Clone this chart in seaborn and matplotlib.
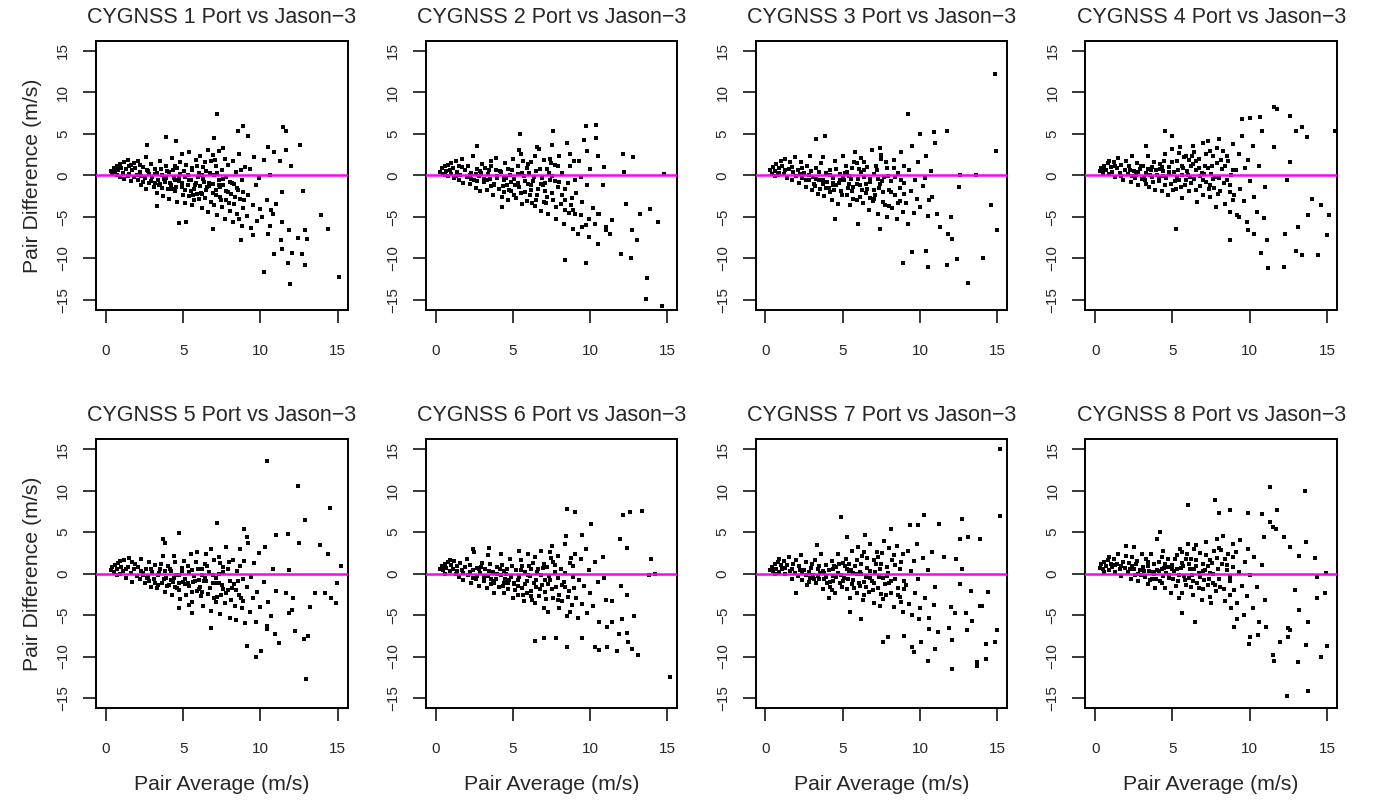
import numpy as np
import pandas as pd
import seaborn as sns
import matplotlib.pyplot as plt

# (pair average, pair difference), CYGNSS 1..8
pts1 = [(0.3,0.5),(0.4,0.2),(0.5,0.9),(0.6,0.4),(0.7,1.2),(0.7,0.1),(0.8,0.7),(0.9,1.4),(0.9,-0.2),(1.0,0.9),(0.5,0.6),(0.8,1.0),
        (1.1,0.3),(1.2,1.6),(1.2,-0.4),(1.3,0.8),(1.4,1.9),(1.5,0.2),(1.5,1.1),(1.6,-0.7),(1.7,0.6),(1.8,1.5),(1.8,-0.2),(1.9,0.9),(2.0,0.1),(1.4,-0.1),(1.6,1.3),
        (2.1,1.8),(2.1,-0.6),(2.2,0.4),(2.3,-1.2),(2.4,1.0),(2.5,-0.3),(2.6,2.2),(2.6,-1.6),(2.7,0.5),(2.8,-0.9),(2.9,1.4),(3.0,-0.2),(2.4,-0.8),(2.8,0.2),(2.2,1.3),
        (3.1,-1.4),(3.2,0.8),(3.3,-2.1),(3.4,-0.5),(3.5,1.7),(3.5,-1.0),(3.6,0.1),(3.7,-2.5),(3.8,-0.8),(3.9,1.2),(4.0,-1.6),(3.3,0.3),(3.6,-1.5),(3.9,-0.3),(3.2,-0.9),
        (4.1,0.4),(4.1,-2.8),(4.2,-1.1),(4.3,2.1),(4.4,-0.3),(4.5,-1.9),(4.6,0.9),(4.6,-3.2),(4.7,-0.7),(4.8,1.6),(4.9,-1.4),(5.0,-2.4),(4.3,-1.6),(4.5,-0.6),(4.8,0.2),(4.9,2.6),
        (5.1,-0.2),(5.1,-3.3),(5.2,1.3),(5.3,-1.2),(5.4,-2.5),(5.4,2.8),(5.5,-0.5),(5.6,0.6),(5.6,-3.6),(5.7,-1.6),(5.8,1.9),(5.8,-0.9),(5.9,-2.2),(6.0,0.3),(5.3,0.1),(5.5,-1.9),(5.7,-2.9),(5.9,1.1),
        (6.1,-1.3),(6.1,2.4),(6.2,-3.9),(6.3,-0.4),(6.3,1.0),(6.4,-2.7),(6.5,0.5),(6.5,-1.8),(6.6,3.1),(6.6,-4.4),(6.7,-0.9),(6.8,1.7),(6.8,-3.2),(6.9,-2.1),(7.0,0.0),(6.2,-2.2),(6.4,1.6),(6.7,-1.3),(6.9,2.5),(7.0,-3.6),
        (7.1,-1.7),(7.1,1.2),(7.2,-4.8),(7.3,-0.6),(7.3,2.9),(7.4,-2.6),(7.5,0.6),(7.5,-3.8),(7.6,-1.2),(7.7,2.0),(7.7,-5.2),(7.8,-0.2),(7.8,-2.9),(7.9,1.3),(8.0,-4.3),(7.2,0.3),(7.4,-1.4),(7.6,3.3),(7.9,-2.0),(8.0,-0.8),
        (8.1,-2.2),(8.2,1.7),(8.2,-5.6),(8.3,-3.4),(8.4,0.4),(8.5,-1.5),(8.5,-4.6),(8.6,2.6),(8.7,-2.8),(8.8,-6.1),(8.8,-0.6),(8.9,-3.9),(9.0,1.0),(8.3,-1.0),(8.6,-5.2),(8.9,-2.0),
        (9.1,-4.9),(9.2,-2.4),(9.3,0.8),(9.4,-6.3),(9.5,-3.6),(9.6,2.2),(9.7,-1.2),(9.8,-5.5),(9.9,-0.3),(10.0,-4.0),
        (10.2,1.9),(10.4,-2.9),(10.6,-6.1),(10.7,-4.2),(10.9,2.8),(11.0,-3.4),
        (2.25,-0.1),(2.65,0.6),(2.95,-0.7),(3.15,0.2),(3.45,-1.2),(3.75,-0.4),(3.95,0.5),(4.15,-0.9),(4.35,0.7),(4.55,-1.4),
        (4.75,-0.2),(4.95,-0.9),(5.15,-1.7),(5.35,-0.6),(5.55,0.9),(5.75,-1.1),(5.95,-0.2),(6.15,-2.1),(6.35,-0.8),(6.55,-1.4),
        (6.75,0.3),(6.95,-1.0),(7.15,-2.4),(7.35,-1.1),(7.55,-0.4),(7.75,-1.9),(7.95,-3.3),(8.15,-0.9),(8.35,-2.6),(8.55,-1.8),
        (8.75,0.7),(8.95,-3.0),(5.05,0.5),(6.05,-2.8),(7.05,1.9),(4.45,1.1),(3.55,0.8),(6.25,0.1),(7.45,-2.9),(5.65,-2.4),
        (7.17,7.35),(8.88,5.94),(8.58,5.4),(11.44,5.8),(11.65,5.4),(12.53,3.7),(11.67,3.1),(3.9,4.6),(4.55,4.2),(2.68,3.7),
        (6.97,4.5),(9.2,4.7),(10.5,3.4),(11.27,1.8),(12.0,1.1),(10.6,0.1),(12.75,-1.9),(13.9,-4.8),(14.37,-6.5),(15.1,-12.2),
        (11.9,-13.1),(10.2,-11.6),(11.8,-10.5),(12.06,-9.3),(12.7,-9.4),(12.9,-10.8),(12.86,-6.6),(13.0,-7.7),(12.4,-7.5),(11.85,-6.6),
        (11.4,-5.6),(11.3,-7.8),(11.4,-8.8),(10.9,-9.4),(10.5,-7.0),(9.5,-7.2),(8.73,-7.75),(6.9,-6.5),(4.7,-5.7),(5.2,-5.6),
        (3.33,-3.7),(11.4,-2.0),(10.8,-4.6),(10.1,-5.0)]

pts2 = [(0.3,0.4),(0.4,0.9),(0.5,0.2),(0.6,1.1),(0.7,0.5),(0.8,1.3),(0.8,-0.1),(0.9,0.7),(1.0,1.5),(0.6,0.0),(1.0,0.2),
        (1.1,0.9),(1.2,-0.3),(1.3,1.7),(1.4,0.4),(1.5,-0.6),(1.5,1.2),(1.6,0.1),(1.7,2.0),(1.8,-0.9),(1.9,0.6),(2.0,-0.2),(1.3,-0.1),(1.7,1.0),
        (2.1,1.1),(2.2,-1.0),(2.3,0.3),(2.4,2.4),(2.5,-0.5),(2.6,-1.5),(2.7,0.8),(2.8,-0.1),(2.9,-1.9),(3.0,1.4),(2.3,-0.4),(2.6,0.2),(2.9,0.5),
        (3.1,-0.8),(3.2,0.9),(3.3,-1.7),(3.4,0.2),(3.5,-0.4),(3.6,1.8),(3.7,-2.3),(3.8,-1.0),(3.9,0.6),(4.0,-0.1),(3.3,-0.5),(3.6,-1.3),(3.9,2.1),
        (4.1,-1.6),(4.2,0.4),(4.3,-2.6),(4.4,-0.6),(4.5,1.5),(4.6,-1.2),(4.7,-3.0),(4.8,0.1),(4.9,-1.9),(5.0,2.0),(4.4,-0.2),(4.7,0.8),(4.9,-0.8),
        (5.1,-0.4),(5.2,-2.7),(5.3,1.2),(5.4,-1.4),(5.5,2.6),(5.6,-3.4),(5.7,-0.1),(5.8,-2.0),(5.9,0.9),(6.0,-1.0),(5.3,-0.9),(5.6,0.3),(5.9,-3.1),(5.4,3.1),
        (6.1,-2.4),(6.2,1.6),(6.3,-0.7),(6.4,-3.7),(6.5,0.5),(6.6,-1.6),(6.7,3.2),(6.8,-4.3),(6.9,-0.3),(7.0,1.9),(6.2,-1.2),(6.5,-2.9),(6.8,-1.0),(6.4,2.3),(7.0,-3.2),
        (7.1,-1.9),(7.2,0.8),(7.3,-4.7),(7.4,-0.6),(7.5,3.7),(7.6,-3.0),(7.7,1.3),(7.8,-5.3),(7.9,-1.4),(8.0,2.4),(7.2,-2.6),(7.5,-0.1),(7.8,-3.8),(7.4,2.0),(8.0,-0.8),
        (8.1,-3.4),(8.2,0.3),(8.3,-5.8),(8.4,-1.6),(8.5,3.9),(8.6,-4.5),(8.7,1.2),(8.8,-2.7),(8.9,-6.5),(9.0,-0.5),(8.4,-3.0),(8.7,2.6),(8.9,-4.1),
        (9.1,-2.1),(9.2,-7.1),(9.3,1.8),(9.4,-4.8),(9.5,-3.2),(9.6,4.3),(9.7,-6.0),(9.8,-1.2),(9.9,-5.2),(10.0,0.8),(9.4,-0.2),(9.8,3.0),
        (10.2,-3.9),(10.3,-5.9),(10.5,2.4),(10.6,-4.6),(10.8,-1.1),(11.0,-6.6),(10.9,1.0),(10.4,4.5),
        (2.25,0.1),(2.65,-0.7),(2.95,0.3),(3.15,-0.4),(3.45,0.7),(3.75,-1.1),(3.95,-0.3),(4.15,0.5),(4.35,-1.3),(4.55,-0.3),
        (4.75,-1.7),(4.95,0.6),(5.15,-1.2),(5.35,0.2),(5.55,-2.1),(5.75,-0.7),(5.95,1.4),(6.15,-1.7),(6.35,-0.2),(6.55,-2.4),
        (6.75,0.8),(6.95,-1.2),(7.15,-3.3),(7.35,0.3),(7.55,-2.1),(7.75,-0.7),(7.95,1.2),(8.15,-2.4),(8.35,-4.1),(8.55,-0.9),
        (8.75,-3.5),(8.95,1.7),(5.05,-2.3),(6.05,0.3),(7.05,-0.9),(4.45,-2.0),(3.55,1.2),(6.25,-3.3),(7.45,1.5),(5.65,1.7),
        (13.66,-12.4),(13.6,-14.9),(14.65,-15.7),(8.34,-10.2),(9.7,-10.6),(12.65,-10.0),(12.0,-9.5),(14.37,-5.6),(13.9,-4.0),(13.2,-4.6),
        (13.0,-7.8),(12.7,-6.6),(12.3,-3.4),(10.4,6.1),(9.75,6.0),(12.75,2.2),(12.1,2.6),(14.8,0.2),(12.2,0.4),(5.43,5.0),
        (7.6,5.4),(6.53,3.4),(2.67,3.6),(4.3,-3.8),(10.5,-8.2),(9.9,-7.4),(11.3,-7.0),(10.5,-4.6),(11.4,-5.4),(11.0,-6.2),
        (9.5,-6.2),(9.0,-4.6)]

pts3 = [(0.3,0.6),(0.4,0.2),(0.5,1.0),(0.6,0.5),(0.7,1.4),(0.8,0.1),(0.9,0.9),(1.0,1.7),(0.6,-0.1),(0.9,0.3),
        (1.1,1.2),(1.2,0.2),(1.3,2.0),(1.4,-0.3),(1.5,0.8),(1.6,1.6),(1.7,-0.6),(1.8,0.4),(1.9,2.2),(2.0,-0.1),(1.3,0.6),(1.7,1.0),
        (2.1,0.7),(2.2,-0.9),(2.3,1.6),(2.4,-0.3),(2.5,0.3),(2.6,-1.4),(2.7,1.1),(2.8,-0.6),(2.9,2.3),(3.0,-1.8),(2.4,0.9),(2.8,0.1),
        (3.1,-0.2),(3.2,-1.3),(3.3,0.9),(3.4,-2.2),(3.5,-0.6),(3.6,1.5),(3.7,-1.0),(3.8,-2.5),(3.9,0.3),(4.0,-0.8),(3.3,-0.4),(3.7,2.2),
        (4.1,-1.5),(4.2,0.6),(4.3,-2.9),(4.4,-0.3),(4.5,1.8),(4.6,-1.1),(4.7,-3.4),(4.8,0.2),(4.9,-1.9),(5.0,2.4),(4.4,-0.9),(4.8,-0.5),(4.2,-2.0),
        (5.1,-0.6),(5.2,1.2),(5.3,-2.4),(5.4,-0.1),(5.5,-3.6),(5.6,0.9),(5.7,-1.4),(5.8,2.8),(5.9,-2.9),(6.0,-0.4),(5.3,0.4),(5.6,-1.9),(5.9,1.5),(5.4,-1.0),
        (6.1,-1.2),(6.2,2.1),(6.3,-3.3),(6.4,-0.2),(6.5,-2.1),(6.6,1.0),(6.7,-4.2),(6.8,-0.8),(6.9,3.1),(7.0,-1.7),(6.2,0.4),(6.5,-1.0),(6.8,-2.7),(6.4,1.6),(7.0,0.2),
        (7.1,-2.4),(7.2,0.6),(7.3,-4.6),(7.4,-1.0),(7.5,2.5),(7.6,-3.2),(7.7,-0.2),(7.8,1.6),(7.9,-5.0),(8.0,-1.8),(7.3,-0.4),(7.6,-2.0),(7.9,0.9),(7.4,3.3),(8.0,-3.7),
        (8.1,-0.7),(8.2,-3.9),(8.3,1.9),(8.4,-2.3),(8.5,-5.3),(8.6,0.3),(8.7,-1.5),(8.8,2.8),(8.9,-4.4),(9.0,-0.9),(8.4,-0.2),(8.7,-3.1),(9.0,1.2),
        (9.1,-3.3),(9.2,-5.8),(9.3,0.6),(9.4,-1.9),(9.5,3.5),(9.6,-4.5),(9.7,-0.6),(9.8,-2.8),(9.9,1.6),(10.0,-3.8),
        (10.2,-1.3),(10.4,2.4),(10.5,-4.9),(10.7,0.5),(10.8,-2.6),(11.0,3.9),(10.3,-0.3),
        (2.25,0.2),(2.65,-0.6),(2.95,0.5),(3.15,-1.0),(3.45,0.4),(3.75,-0.5),(3.95,-1.5),(4.15,0.1),(4.35,-1.1),(4.55,0.8),
        (4.75,-0.9),(4.95,-2.4),(5.15,0.3),(5.35,-1.5),(5.55,-0.4),(5.75,1.6),(5.95,-1.0),(6.15,-2.6),(6.35,0.7),(6.55,-1.6),
        (6.75,-0.4),(6.95,-3.1),(7.15,1.1),(7.35,-1.5),(7.55,-0.7),(7.75,-3.6),(7.95,-0.1),(8.15,-2.0),(8.35,0.9),(8.55,-3.3),
        (8.75,-0.5),(8.95,-2.2),(5.05,-0.2),(6.05,0.8),(7.05,-2.8),(4.45,-1.8),(3.55,-1.6),(6.25,-1.7),(7.45,2.0),(5.65,-2.8),
        (14.85,12.2),(14.9,3.0),(15.0,-6.6),(14.6,-3.5),(14.1,-9.9),(13.1,-13.0),(12.37,-10.1),(11.73,-10.8),(10.55,-11.0),(10.4,-9.1),
        (9.5,-9.2),(9.2,7.4),(11.73,5.4),(10.9,5.2),(10.0,5.0),(3.87,4.7),(3.3,4.4),(12.6,0.0),(13.6,0.1),(12.5,-1.4),
        (12.0,-5.0),(11.8,-7.0),(12.1,-7.6),(11.3,-6.2),(11.1,-4.6),(10.6,-3.0),(8.93,-10.6),(5.96,-5.9),(4.5,-5.2),(7.4,-6.4)]

pts4 = [(0.3,0.5),(0.4,0.9),(0.5,0.3),(0.6,1.2),(0.7,0.6),(0.8,1.5),(0.9,0.2),(1.0,1.0),(0.6,0.8),(0.9,1.8),
        (1.1,0.4),(1.2,1.6),(1.3,-0.2),(1.4,0.9),(1.5,2.1),(1.6,0.3),(1.7,1.3),(1.8,-0.5),(1.9,0.7),(2.0,1.8),(1.3,1.1),(1.7,-0.1),
        (2.1,0.2),(2.2,1.2),(2.3,-0.8),(2.4,2.3),(2.5,0.5),(2.6,-0.3),(2.7,1.5),(2.8,-1.2),(2.9,0.8),(3.0,-0.4),(2.4,-0.1),(2.8,0.4),
        (3.1,1.1),(3.2,-0.6),(3.3,0.3),(3.4,2.4),(3.5,-1.4),(3.6,0.7),(3.7,-0.2),(3.8,1.6),(3.9,-1.8),(4.0,0.1),(3.3,-1.0),(3.7,1.0),
        (4.1,-0.7),(4.2,1.4),(4.3,-1.9),(4.4,0.5),(4.5,2.6),(4.6,-0.3),(4.7,-2.3),(4.8,1.0),(4.9,-1.0),(5.0,3.2),(4.4,-0.1),(4.8,0.2),(4.2,0.8),
        (5.1,0.4),(5.2,-1.6),(5.3,1.8),(5.4,-0.5),(5.5,3.4),(5.6,-2.7),(5.7,0.9),(5.8,-1.1),(5.9,2.3),(6.0,0.0),(5.3,-0.2),(5.6,1.2),(5.9,-0.6),(5.4,2.7),
        (6.1,-1.9),(6.2,1.1),(6.3,3.6),(6.4,-0.4),(6.5,0.6),(6.6,-3.2),(6.7,2.0),(6.8,-1.3),(6.9,0.3),(7.0,3.9),(6.2,-0.9),(6.5,1.7),(6.8,-0.1),(6.4,2.8),(7.0,-2.4),
        (7.1,1.2),(7.2,-0.8),(7.3,4.1),(7.4,-2.6),(7.5,0.2),(7.6,2.4),(7.7,-1.5),(7.8,-3.8),(7.9,1.5),(8.0,-0.3),(7.3,0.9),(7.6,-0.4),(7.9,3.3),(7.4,-1.2),(8.0,4.4),
        (8.1,-1.9),(8.2,0.8),(8.3,2.9),(8.4,-3.4),(8.5,-0.6),(8.6,1.7),(8.7,-4.4),(8.8,0.1),(8.9,3.8),(9.0,-2.4),(8.4,1.1),(8.7,-1.1),(8.9,-3.0),
        (9.1,0.6),(9.2,-4.8),(9.3,2.6),(9.4,-1.6),(9.5,4.8),(9.6,-3.1),(9.7,0.9),(9.8,-5.6),(9.9,1.9),(10.0,-0.7),
        (10.2,3.6),(10.3,-2.6),(10.5,-4.4),(10.6,1.1),(10.8,5.3),(11.0,-1.4),(10.9,-5.1),
        (2.25,0.6),(2.65,0.0),(2.95,1.2),(3.15,-0.2),(3.45,0.8),(3.75,-0.8),(3.95,0.6),(4.15,-0.2),(4.35,1.0),(4.55,-1.1),
        (4.75,0.4),(4.95,1.6),(5.15,-0.7),(5.35,0.7),(5.55,-1.4),(5.75,2.2),(5.95,0.5),(6.15,-0.2),(6.35,1.4),(6.55,-1.8),
        (6.75,0.9),(6.95,-0.6),(7.15,2.6),(7.35,-1.6),(7.55,1.1),(7.75,-0.2),(7.95,-2.2),(8.15,1.9),(8.35,-0.9),(8.55,2.4),
        (8.75,-2.0),(8.95,0.6),(5.05,-1.8),(6.05,1.9),(7.05,0.2),(4.45,1.8),(3.55,0.0),(6.25,2.4),(7.45,3.0),(5.65,0.1),
        (11.6,8.3),(11.75,8.0),(12.6,7.2),(10.65,7.1),(10.0,6.9),(9.5,6.8),(13.4,5.9),(15.5,5.3),(13.7,4.6),(13.0,5.3),
        (4.5,5.4),(5.0,4.8),(11.55,3.4),(3.3,3.5),(5.2,-6.4),(8.7,-7.8),(11.2,-11.2),(12.2,-11.0),(10.75,-9.3),(13.0,-9.1),
        (13.4,-9.6),(14.4,-9.6),(15.0,-7.2),(15.1,-4.8),(14.6,-3.5),(13.8,-4.8),(14.0,-2.8),(13.1,-6.2),(12.3,-7.0),(11.1,-7.8),
        (10.3,-7.0),(9.9,-6.6),(9.3,-5.0),(12.4,-0.6),(12.6,1.6)]

pts5 = [(0.3,0.4),(0.4,0.8),(0.5,0.2),(0.6,1.0),(0.7,0.5),(0.8,1.3),(0.9,0.0),(1.0,0.8),(0.7,-0.2),(0.9,1.5),
        (1.1,0.3),(1.2,1.6),(1.3,-0.5),(1.4,0.8),(1.5,1.9),(1.6,0.1),(1.7,-1.0),(1.8,0.6),(1.9,1.2),(2.0,-0.3),(1.3,0.5),(1.7,1.4),
        (2.1,0.8),(2.2,-0.7),(2.3,1.8),(2.4,0.1),(2.5,-1.2),(2.6,0.6),(2.7,-0.4),(2.8,1.4),(2.9,-1.6),(3.0,0.2),(2.4,-0.2),(2.8,-0.9),
        (3.1,-0.6),(3.2,1.0),(3.3,-1.8),(3.4,-0.2),(3.5,0.6),(3.6,-1.1),(3.7,2.1),(3.8,-2.2),(3.9,-0.5),(4.0,0.9),(3.4,-1.4),(3.8,0.3),
        (4.1,-1.4),(4.2,0.3),(4.3,-2.6),(4.4,-0.5),(4.5,1.4),(4.6,-1.8),(4.7,-0.2),(4.8,-3.1),(4.9,0.7),(5.0,-1.0),(4.4,2.1),(4.7,-1.2),(4.2,-0.8),
        (5.1,-0.6),(5.2,-2.6),(5.3,0.9),(5.4,-1.5),(5.5,2.3),(5.6,-3.4),(5.7,-0.3),(5.8,1.4),(5.9,-2.1),(6.0,-0.8),(5.3,-1.1),(5.6,0.4),(5.9,2.6),(5.4,-3.8),
        (6.1,-1.6),(6.2,0.6),(6.3,-3.9),(6.4,-0.5),(6.5,2.4),(6.6,-2.5),(6.7,0.2),(6.8,-4.5),(6.9,-1.2),(7.0,1.6),(6.2,-2.2),(6.5,-0.9),(6.8,3.0),(6.4,1.2),(7.0,-3.0),
        (7.1,-0.5),(7.2,-2.8),(7.3,2.0),(7.4,-4.9),(7.5,-1.4),(7.6,0.8),(7.7,-3.6),(7.8,3.2),(7.9,-2.0),(8.0,-5.4),(7.3,-0.1),(7.6,-1.9),(7.9,0.5),(7.4,1.3),(8.0,-0.9),
        (8.1,-3.2),(8.2,1.6),(8.3,-1.3),(8.4,-5.6),(8.5,0.3),(8.6,-2.6),(8.7,2.9),(8.8,-4.2),(8.9,-0.6),(9.0,-6.0),(8.4,-2.0),(8.7,0.9),(8.9,-3.3),
        (9.1,-1.6),(9.2,3.7),(9.3,-4.6),(9.4,-0.4),(9.5,-3.0),(9.6,1.3),(9.7,-5.8),(9.8,-2.2),(9.9,2.5),(10.0,-4.0),
        (10.2,-1.0),(10.3,3.2),(10.5,-3.4),(10.7,-5.1),(10.8,0.6),(11.0,-2.1),(10.4,-6.3),
        (2.25,0.3),(2.65,-0.5),(2.95,0.5),(3.15,-1.1),(3.45,0.1),(3.75,-0.7),(3.95,-1.5),(4.15,0.6),(4.35,-1.0),(4.55,-0.2),
        (4.75,-2.0),(4.95,0.3),(5.15,-1.3),(5.35,0.2),(5.55,-2.2),(5.75,-0.9),(5.95,0.6),(6.15,-2.7),(6.35,-0.9),(6.55,0.9),
        (6.75,-1.7),(6.95,-0.2),(7.15,-3.4),(7.35,-1.1),(7.55,0.2),(7.75,-2.3),(7.95,1.4),(8.15,-1.8),(8.35,-3.9),(8.55,-0.9),
        (8.75,-2.9),(8.95,1.5),(5.05,1.5),(6.05,-1.9),(7.05,-1.1),(4.45,-1.6),(3.55,1.1),(6.25,-0.2),(7.45,-2.6),(5.65,-1.0),
        (10.45,13.5),(12.45,10.6),(14.5,7.9),(12.9,6.4),(7.2,6.1),(4.76,4.9),(3.7,4.2),(3.8,3.7),(8.95,5.4),(9.1,4.4),
        (11.0,4.6),(11.76,4.8),(12.5,3.7),(13.84,3.4),(14.4,2.3),(15.2,0.9),(14.96,-1.1),(14.9,-3.5),(14.6,-2.9),(14.2,-2.4),
        (13.56,-2.4),(13.2,-4.0),(12.8,-7.9),(13.07,-7.5),(12.96,-12.7),(9.74,-10.1),(10.04,-9.3),(9.16,-8.7),(11.2,-8.4),(10.94,-7.3),
        (10.45,-6.7),(12.27,-6.9),(12.06,-4.4),(11.63,-2.4),(11.85,-4.8),(12.1,-3.0),(11.85,0.4),(6.82,-6.6),(4.76,-4.2),(5.6,-4.8)]

pts6 = [(0.3,0.5),(0.4,0.9),(0.5,0.4),(0.6,1.1),(0.7,0.7),(0.8,1.4),(0.9,0.3),(1.0,1.0),(0.6,0.0),(0.9,1.6),
        (1.1,0.6),(1.2,1.5),(1.3,0.0),(1.4,0.9),(1.5,-0.4),(1.6,1.3),(1.7,0.4),(1.8,-0.8),(1.9,0.8),(2.0,1.7),(1.4,0.3),(1.8,0.1),
        (2.1,-0.2),(2.2,1.0),(2.3,-1.1),(2.4,0.4),(2.5,2.6),(2.6,-0.6),(2.7,0.7),(2.8,-1.5),(2.9,0.1),(3.0,1.3),(2.4,-0.5),(2.8,0.5),
        (3.1,-0.9),(3.2,0.5),(3.3,-1.8),(3.4,-0.3),(3.5,1.2),(3.6,-1.3),(3.7,0.2),(3.8,-2.3),(3.9,-0.6),(4.0,0.8),(3.4,2.2),(3.7,-0.9),
        (4.1,-1.6),(4.2,-0.2),(4.3,1.0),(4.4,-2.4),(4.5,-0.7),(4.6,0.6),(4.7,-1.9),(4.8,1.8),(4.9,-0.4),(5.0,-2.9),(4.4,0.3),(4.7,-1.1),(4.2,2.3),
        (5.1,-1.2),(5.2,0.4),(5.3,-2.6),(5.4,-0.4),(5.5,1.6),(5.6,-1.8),(5.7,-3.3),(5.8,0.2),(5.9,-0.9),(6.0,2.3),(5.3,-1.5),(5.6,0.9),(5.9,-2.4),(5.4,2.7),
        (6.1,-0.3),(6.2,-2.1),(6.3,1.3),(6.4,-3.6),(6.5,-0.8),(6.6,0.6),(6.7,-2.7),(6.8,2.7),(6.9,-1.4),(7.0,-4.2),(6.2,0.5),(6.5,-1.6),(6.8,-0.2),(6.4,2.0),(7.0,1.2),
        (7.1,-2.2),(7.2,0.8),(7.3,-4.6),(7.4,-0.8),(7.5,3.3),(7.6,-2.9),(7.7,0.2),(7.8,-1.6),(7.9,2.1),(8.0,-4.1),(7.3,-1.3),(7.6,1.4),(7.9,-0.5),(7.4,2.6),(8.0,-2.6),
        (8.1,0.6),(8.2,-3.3),(8.3,-1.0),(8.4,3.6),(8.5,-5.1),(8.6,-2.1),(8.7,1.3),(8.8,-3.8),(8.9,-0.4),(9.0,2.4),(8.4,-1.6),(8.7,-4.6),(8.9,0.9),
        (9.1,-2.9),(9.2,-5.4),(9.3,-0.8),(9.4,1.8),(9.5,-3.7),(9.6,-1.5),(9.7,3.0),(9.8,-4.8),(9.9,0.4),(10.0,-2.3),
        (10.2,-3.9),(10.3,1.4),(10.5,-1.0),(10.6,-5.9),(10.8,2.0),(11.0,-3.2),(10.9,-0.5),
        (2.25,0.2),(2.65,-0.3),(2.95,0.8),(3.15,-0.4),(3.45,0.3),(3.75,-1.2),(3.95,-0.1),(4.15,0.5),(4.35,-1.5),(4.55,-0.1),
        (4.75,-0.8),(4.95,0.9),(5.15,-2.0),(5.35,-0.8),(5.55,0.4),(5.75,-1.3),(5.95,-0.2),(6.15,-2.7),(6.35,-1.2),(6.55,0.2),
        (6.75,-1.9),(6.95,0.7),(7.15,-3.1),(7.35,-0.3),(7.55,-1.9),(7.75,1.0),(7.95,-3.2),(8.15,-1.4),(8.35,0.1),(8.55,-2.8),
        (8.75,1.9),(8.95,-1.7),(5.05,-1.3),(6.05,0.9),(7.05,-0.8),(4.45,-1.1),(3.55,-0.7),(6.25,-3.2),(7.45,1.9),(5.65,-2.6),
        (8.53,7.76),(9.04,7.36),(12.15,7.0),(12.58,7.36),(13.33,7.48),(10.07,5.96),(11.9,4.1),(12.36,3.1),(13.93,1.8),(14.2,0.0),
        (13.8,-0.2),(9.47,4.6),(8.46,4.5),(3.47,3.1),(2.4,2.9),(15.17,-12.5),(13.07,-9.8),(12.7,-9.1),(11.74,-9.3),(11.1,-8.8),
        (10.6,-9.2),(10.3,-8.9),(8.49,-8.8),(6.43,-8.1),(7.0,-7.8),(7.76,-7.8),(9.47,-7.8),(12.47,-8.2),(12.38,-7.2),(12.04,-5.5),
        (12.84,-5.1),(11.85,-7.3),(11.4,-3.3),(12.38,-2.6),(12.0,-1.5),(11.4,-5.9),(11.07,-6.4)]

pts7 = [(0.3,0.4),(0.4,0.8),(0.5,0.3),(0.6,1.1),(0.7,0.6),(0.8,1.4),(0.9,0.2),(1.0,1.0),(0.6,-0.1),(0.9,1.7),
        (1.1,0.5),(1.2,1.5),(1.3,-0.1),(1.4,1.0),(1.5,2.0),(1.6,0.3),(1.7,-0.6),(1.8,1.2),(1.9,0.1),(2.0,1.6),(1.3,0.7),(1.7,0.5),
        (2.1,-0.3),(2.2,0.9),(2.3,2.2),(2.4,-0.8),(2.5,0.4),(2.6,1.4),(2.7,-1.4),(2.8,0.2),(2.9,-0.5),(3.0,1.1),(2.4,0.2),(2.8,-1.0),
        (3.1,-0.2),(3.2,1.6),(3.3,-1.2),(3.4,0.5),(3.5,-0.6),(3.6,2.3),(3.7,-1.9),(3.8,0.1),(3.9,1.0),(4.0,-1.1),(3.4,-0.3),(3.8,-0.7),
        (4.1,0.4),(4.2,-1.6),(4.3,1.5),(4.4,-0.3),(4.5,-2.4),(4.6,0.8),(4.7,2.4),(4.8,-1.2),(4.9,-0.2),(5.0,1.3),(4.4,-0.9),(4.7,0.1),(4.3,-2.0),
        (5.1,-0.5),(5.2,1.8),(5.3,-1.9),(5.4,0.3),(5.5,-3.0),(5.6,2.7),(5.7,-0.8),(5.8,0.9),(5.9,-2.3),(6.0,3.2),(5.3,0.6),(5.6,-1.3),(5.9,0.0),(5.4,1.2),
        (6.1,-1.5),(6.2,1.1),(6.3,-3.2),(6.4,2.6),(6.5,-0.4),(6.6,0.7),(6.7,-2.2),(6.8,3.5),(6.9,-0.9),(7.0,1.6),(6.2,-0.1),(6.5,-1.6),(6.8,0.3),(6.4,-2.6),(7.0,-3.6),
        (7.1,0.2),(7.2,2.6),(7.3,-1.7),(7.4,-3.9),(7.5,1.2),(7.6,-0.5),(7.7,3.9),(7.8,-2.6),(7.9,0.8),(8.0,-1.2),(7.3,2.0),(7.6,-3.1),(7.9,-0.3),(7.4,0.6),(8.0,3.1),
        (8.1,-2.3),(8.2,1.6),(8.3,-4.0),(8.4,-0.6),(8.5,3.3),(8.6,-1.8),(8.7,0.5),(8.8,-3.4),(8.9,2.4),(9.0,-0.9),(8.4,1.0),(8.7,-2.8),(8.9,-4.6),
        (9.1,-1.4),(9.2,2.7),(9.3,-3.7),(9.4,0.3),(9.5,-5.0),(9.6,1.5),(9.7,-2.4),(9.8,3.6),(9.9,-0.6),(10.0,-4.1),
        (10.2,1.9),(10.3,-2.9),(10.5,0.4),(10.6,-5.4),(10.8,2.6),(11.0,-1.6),(10.9,-3.8),
        (2.25,0.4),(2.65,-0.2),(2.95,0.7),(3.15,-0.6),(3.45,0.9),(3.75,0.3),(3.95,-0.4),(4.15,-1.0),(4.35,0.6),(4.55,-0.4),
        (4.75,1.2),(4.95,-1.6),(5.15,0.9),(5.35,-0.6),(5.55,0.4),(5.75,-1.7),(5.95,1.6),(6.15,0.2),(6.35,-1.0),(6.55,1.9),
        (6.75,-0.5),(6.95,-2.0),(7.15,1.2),(7.35,-0.4),(7.55,2.5),(7.75,-1.3),(7.95,0.1),(8.15,-0.9),(8.35,2.2),(8.55,-2.6),
        (8.75,1.4),(8.95,-1.9),(5.05,-0.9),(6.05,-1.1),(7.05,-1.2),(4.45,0.9),(3.55,0.1),(6.25,2.1),(7.45,-2.5),(5.65,0.1),
        (15.17,15.0),(15.2,6.9),(4.86,6.8),(10.28,7.0),(11.25,6.0),(12.75,6.6),(12.58,4.2),(13.1,4.35),(13.86,4.2),(6.43,4.7),
        (5.3,4.4),(3.32,3.4),(9.38,5.8),(9.85,5.9),(8.14,5.35),(11.57,2.0),(12.32,1.8),(12.75,0.6),(12.6,-1.3),(13.3,-2.1),
        (14.38,-2.2),(13.86,-3.9),(14.0,-3.9),(13.0,-4.7),(13.4,-5.7),(13.03,-6.8),(14.96,-6.8),(14.85,-8.3),(14.27,-8.5),(14.25,-10.3),
        (13.67,-10.6),(13.67,-11.1),(12.1,-11.5),(10.5,-10.5),(9.6,-9.4),(9.47,-8.8),(7.6,-8.3),(7.93,-7.6),(8.96,-7.5),(10.07,-8.3),
        (11.0,-9.1),(12.1,-8.0),(11.14,-7.0),(11.85,-6.6),(12.3,-4.8),(12.0,-4.0),(10.6,-6.7),(9.96,-5.5),(6.2,-5.5),(5.46,-4.6),
        (4.1,-3.0),(2.0,-2.3)]

pts8 = [(0.3,0.7),(0.4,1.1),(0.5,0.5),(0.6,1.4),(0.7,0.9),(0.8,1.6),(0.9,0.4),(1.0,1.2),(0.6,0.2),(0.9,2.0),
        (1.1,0.8),(1.2,1.8),(1.3,0.2),(1.4,1.2),(1.5,2.3),(1.6,0.5),(1.7,-0.3),(1.8,1.4),(1.9,0.7),(2.0,2.1),(1.3,1.0),(1.7,0.9),
        (2.1,0.2),(2.2,1.3),(2.3,-0.6),(2.4,2.0),(2.5,0.6),(2.6,-0.2),(2.7,1.5),(2.8,-0.9),(2.9,0.4),(3.0,2.4),(2.4,0.9),(2.8,0.0),
        (3.1,0.8),(3.2,-0.4),(3.3,1.7),(3.4,-1.3),(3.5,0.3),(3.6,2.3),(3.7,-0.6),(3.8,1.1),(3.9,-1.7),(4.0,0.4),(3.4,0.9),(3.8,-0.1),
        (4.1,1.4),(4.2,-0.9),(4.3,0.5),(4.4,2.7),(4.5,-1.8),(4.6,0.1),(4.7,1.8),(4.8,-0.5),(4.9,-2.4),(5.0,1.0),(4.4,-0.3),(4.7,0.8),(4.3,2.0),
        (5.1,0.3),(5.2,-1.5),(5.3,2.2),(5.4,-0.2),(5.5,3.0),(5.6,-2.3),(5.7,0.9),(5.8,-0.8),(5.9,1.7),(6.0,3.6),(5.3,0.6),(5.6,1.3),(5.9,-1.4),(5.4,-2.9),
        (6.1,-0.5),(6.2,1.8),(6.3,-2.6),(6.4,0.6),(6.5,3.4),(6.6,-1.2),(6.7,0.1),(6.8,2.5),(6.9,-3.2),(7.0,1.1),(6.2,-1.6),(6.5,0.9),(6.8,-0.4),(6.4,2.9),(7.0,-1.9),
        (7.1,0.4),(7.2,3.8),(7.3,-1.4),(7.4,1.6),(7.5,-3.5),(7.6,0.0),(7.7,2.7),(7.8,-2.1),(7.9,4.2),(8.0,-0.7),(7.3,0.9),(7.6,-1.1),(7.9,1.9),(7.4,-2.8),(8.0,3.1),
        (8.1,-1.6),(8.2,1.2),(8.3,4.5),(8.4,-3.3),(8.5,0.4),(8.6,2.3),(8.7,-0.9),(8.8,-4.2),(8.9,3.5),(9.0,-2.0),(8.4,1.7),(8.7,-2.6),(8.9,0.8),
        (9.1,2.6),(9.2,-3.5),(9.3,0.2),(9.4,4.0),(9.5,-1.5),(9.6,-5.0),(9.7,1.4),(9.8,-2.7),(9.9,3.0),(10.0,-0.2),
        (10.2,-4.1),(10.3,2.0),(10.5,-1.6),(10.6,-5.8),(10.8,1.0),(11.0,-3.2),(10.9,4.4),
        (2.25,0.5),(2.65,1.1),(2.95,-0.2),(3.15,0.3),(3.45,1.4),(3.75,0.2),(3.95,-0.6),(4.15,0.3),(4.35,-1.2),(4.55,1.1),
        (4.75,-0.2),(4.95,0.5),(5.15,1.7),(5.35,-0.9),(5.55,0.7),(5.75,-0.3),(5.95,2.4),(6.15,0.5),(6.35,-0.9),(6.55,1.6),
        (6.75,-1.8),(6.95,0.3),(7.15,2.2),(7.35,-0.6),(7.55,1.3),(7.75,-1.4),(7.95,0.6),(8.15,2.8),(8.35,-1.9),(8.55,1.0),
        (8.75,-0.4),(8.95,2.0),(5.05,-0.6),(6.05,1.2),(7.05,-0.8),(4.45,0.7),(3.55,-0.8),(6.25,-0.2),(7.45,0.1),(5.65,2.6),
        (11.29,10.4),(13.6,10.0),(7.74,8.9),(5.98,8.2),(8.04,7.3),(8.72,7.6),(9.88,7.3),(10.82,7.2),(11.78,7.6),(11.29,6.2),
        (11.5,5.6),(11.7,5.4),(12.21,4.35),(12.58,3.2),(13.16,2.1),(13.65,3.8),(14.25,1.9),(14.94,0.1),(14.33,-0.45),(14.87,-2.4),
        (14.33,-3.0),(13.78,-5.9),(13.65,-8.6),(15.0,-8.7),(14.6,-10.1),(13.1,-10.7),(13.76,-14.2),(12.4,-14.7),(11.5,-9.8),(11.55,-10.5),
        (9.96,-8.5),(10.05,-7.7),(10.54,-7.4),(11.07,-6.5),(11.93,-8.3),(12.47,-7.7),(12.62,-6.8),(12.5,-6.6),(13.2,-4.4),(12.96,-2.0),
        (8.98,-6.4),(9.15,-5.5),(6.47,-5.8),(5.6,-4.8),(4.22,5.0),(4.0,4.15),(1.97,3.3),(2.5,3.2)]

panels = [pts1, pts2, pts3, pts4, pts5, pts6, pts7, pts8]
titles = [f"CYGNSS {i} Port vs Jason\u22123" for i in range(1, 9)]
xticks = [0, 5, 10, 15]
yticks = [-15, -10, -5, 0, 5, 10, 15]

sns.set_style("ticks")
plt.rcParams['font.family'] = ['Liberation Sans', 'DejaVu Sans']

fig, axes = plt.subplots(2, 4, figsize=(13.75, 8.02), dpi=100)
fig.subplots_adjust(left=96/1375, right=1337/1375, top=1-41/802, bottom=1-708/802,
                    wspace=0.31, hspace=0.48)

for i, ax in enumerate(axes.flat):
    df = pd.DataFrame(panels[i], columns=["avg", "diff"])
    sns.scatterplot(data=df, x="avg", y="diff", ax=ax, color="black", marker="s",
                    s=5, linewidth=0, legend=False)
    ax.axhline(0, color="#FF00FF", lw=1.8, zorder=3)
    ax.set_xlim(-0.64, 15.65)
    ax.set_ylim(-16.2, 16.2)
    ax.set_xticks(xticks)
    ax.set_yticks(yticks)
    ax.tick_params(axis="both", direction="out", length=9.5, width=1.1, labelsize=11, color="black")
    ax.tick_params(axis="x", pad=15)
    ax.tick_params(axis="y", pad=9)
    for lab in ax.get_yticklabels():
        lab.set_rotation(90)
        lab.set_va("center")
    for sp in ax.spines.values():
        sp.set_visible(True)
        sp.set_linewidth(1.4)
        sp.set_color("black")
    ax.set_title(titles[i], fontsize=15.5, pad=13)
    ax.set_xlabel("Pair Average (m/s)" if i >= 4 else "", fontsize=15.3)
    ax.set_ylabel("Pair Difference (m/s)" if i % 4 == 0 else "", fontsize=15.3)
    ax.xaxis.set_label_coords(0.5, -0.25)
    ax.yaxis.set_label_coords(-0.215, 0.5)

fig.savefig("out.png", dpi=100)
